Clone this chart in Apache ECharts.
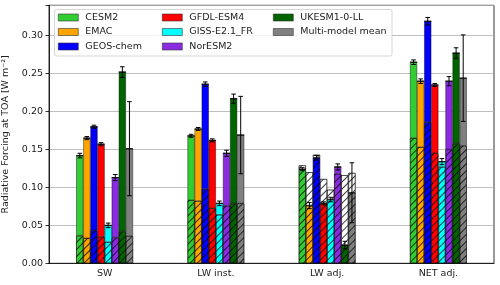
<!DOCTYPE html>
<html>
<head>
<meta charset="utf-8">
<script src="https://cdn.jsdelivr.net/npm/echarts@6/dist/echarts.min.js"></script>
<style>html,body{margin:0;padding:0;background:#fff}#c{width:500px;height:285px}</style>
</head>
<body>
<div id="c"></div>
<script>
const categories = ['SW', 'LW inst.', 'LW adj.', 'NET adj.'];
const models = ['CESM2', 'EMAC', 'GEOS-chem', 'GFDL-ESM4', 'GISS-E2.1_FR', 'NorESM2', 'UKESM1-0-LL', 'Multi-model mean'];
const colors = ['#32cd32', '#ffa500', '#0000ff', '#ff0000', '#00ffff', '#8a2be2', '#006400', '#808080'];
const yTicks = [0, 0.05, 0.10, 0.15, 0.20, 0.25, 0.30];

const CESM2_total = [0.142, 0.168, 0.124, 0.265];
const CESM2_hatch = [0.0365, 0.083, 0.129, 0.165];
const CESM2_err   = [0.003, 0.002, 0.002, 0.003];
const EMAC_total  = [0.165, 0.177, 0.076, 0.240];
const EMAC_hatch  = [0.033, 0.082, 0.120, 0.153];
const EMAC_err    = [0.002, 0.002, 0.004, 0.003];
const GEOS_total  = [0.180, 0.236, 0.139, 0.319];
const GEOS_hatch  = [0.0435, 0.098, 0.143, 0.186];
const GEOS_err    = [0.002, 0.003, 0.003, 0.005];
const GFDL_total  = [0.157, 0.162, 0.079, 0.235];
const GFDL_hatch  = [0.035, 0.0725, 0.111, 0.145];
const GFDL_err    = [0.002, 0.002, 0.002, 0.002];
const GISS_total  = [0.050, 0.079, 0.084, 0.134];
const GISS_hatch  = [0.028, 0.064, 0.097, 0.127];
const GISS_err    = [0.003, 0.003, 0.003, 0.004];
const NorESM2_total = [0.113, 0.145, 0.127, 0.240];
const NorESM2_hatch = [0.034, 0.076, 0.118, 0.150];
const NorESM2_err   = [0.004, 0.004, 0.004, 0.006];
const UKESM_total = [0.252, 0.217, 0.024, 0.277];
const UKESM_hatch = [0.042, 0.079, 0.116, 0.158];
const UKESM_err   = [0.007, 0.006, 0.005, 0.007];
const MEAN_total  = [0.151, 0.169, 0.093, 0.244];
const MEAN_hatch  = [0.036, 0.079, 0.119, 0.155];
const MEAN_err    = [0.062, 0.051, 0.0395, 0.057];

const totals = [CESM2_total, EMAC_total, GEOS_total, GFDL_total, GISS_total, NorESM2_total, UKESM_total, MEAN_total];
const hatches = [CESM2_hatch, EMAC_hatch, GEOS_hatch, GFDL_hatch, GISS_hatch, NorESM2_hatch, UKESM_hatch, MEAN_hatch];
const errs = [CESM2_err, EMAC_err, GEOS_err, GFDL_err, GISS_err, NorESM2_err, UKESM_err, MEAN_err];

const FONT = 'DejaVu Sans';
const CAT_GAP = 0.49;
const decal = {
  symbol: 'rect', symbolSize: 1,
  dashArrayX: [1, 0], dashArrayY: [1, 4],
  rotation: -Math.PI / 4,
  color: 'rgba(0,0,0,0.75)'
};
const edge = { borderColor: 'rgba(0,0,0,0.85)', borderWidth: 0.5 };

const series = [];
models.forEach((m, i) => {
  const lower = totals[i].map((t, j) => Math.min(t, hatches[i][j]));
  const upper = totals[i].map((t, j) => Math.max(t - hatches[i][j], 0));
  const extra = totals[i].map((t, j) => Math.max(hatches[i][j] - t, 0));
  series.push({
    name: m + ' (hatched)', type: 'bar', stack: 's' + i, data: lower,
    barCategoryGap: (CAT_GAP * 100) + '%', barGap: '0%',
    itemStyle: Object.assign({ color: colors[i], decal: decal }, edge),
    emphasis: { disabled: true }
  });
  series.push({
    name: m, type: 'bar', stack: 's' + i, data: upper,
    barCategoryGap: (CAT_GAP * 100) + '%', barGap: '0%',
    itemStyle: Object.assign({ color: colors[i] }, edge),
    emphasis: { disabled: true }
  });
  series.push({
    name: m + ' (hatched extra)', type: 'bar', stack: 's' + i, data: extra,
    barCategoryGap: (CAT_GAP * 100) + '%', barGap: '0%',
    itemStyle: Object.assign({ color: '#ffffff', decal: decal }, edge),
    emphasis: { disabled: true }
  });
});

const errData = [];
models.forEach((m, i) => {
  categories.forEach((c, j) => {
    errData.push([j, i, totals[i][j], errs[i][j]]);
  });
});
series.push({
  type: 'custom', name: 'errors', z: 10, silent: true,
  data: errData,
  encode: { x: 0, y: 2 },
  renderItem: function (params, api) {
    const j = api.value(0), i = api.value(1), t = api.value(2), e = api.value(3);
    const center = api.coord([j, t]);
    const bandW = api.size([1, 0])[0];
    const groupW = bandW * (1 - CAT_GAP);
    const bw = groupW / models.length;
    const x = center[0] - groupW / 2 + (i + 0.5) * bw;
    const y0 = api.coord([j, t - e])[1];
    const y1 = api.coord([j, t + e])[1];
    const cap = 2.3;
    const st = { stroke: '#000', lineWidth: 1 };
    return {
      type: 'group',
      children: [
        { type: 'line', shape: { x1: x, y1: y0, x2: x, y2: y1 }, style: st },
        { type: 'line', shape: { x1: x - cap, y1: y0, x2: x + cap, y2: y0 }, style: st },
        { type: 'line', shape: { x1: x - cap, y1: y1, x2: x + cap, y2: y1 }, style: st }
      ]
    };
  }
});

function legendPart(names, left) {
  return {
    orient: 'vertical', left: left, top: 12, padding: 0,
    itemWidth: 20, itemHeight: 7, itemGap: 3.5,
    icon: 'rect', z: 6,
    data: names.map(n => ({ name: n, itemStyle: { color: colors[models.indexOf(n)], borderColor: '#333', borderWidth: 0.6, decal: 'none' } })),
    textStyle: { fontFamily: FONT, fontSize: 9.5, color: '#222', lineHeight: 11, padding: [0, 0, 0, 2] },
    selectedMode: false
  };
}

const chart = echarts.init(document.getElementById('c'), null, { renderer: 'canvas' });
chart.setOption({
  animation: false,
  backgroundColor: '#fff',
  grid: { left: 49, right: 6, top: 5.3, bottom: 21.7, show: true, borderColor: '#000', borderWidth: 0.8, backgroundColor: 'transparent', outerBoundsMode: 'none', containLabel: false },
  xAxis: {
    type: 'category', data: categories,
    axisLine: { lineStyle: { color: '#000', width: 0.8 } },
    axisTick: { alignWithLabel: true, interval: 0, length: 3.5, lineStyle: { color: '#000', width: 0.8 } },
    axisLabel: { fontFamily: FONT, fontSize: 9.5, color: '#222', margin: 5 }
  },
  yAxis: {
    type: 'value', min: 0, max: 0.34, interval: 0.05,
    name: 'Radiative Forcing at TOA [W m⁻²]', nameLocation: 'middle', nameGap: 25, nameRotate: 90,
    nameTextStyle: { fontFamily: FONT, fontSize: 9.5, color: '#222' },
    axisLine: { show: true, lineStyle: { color: '#000', width: 0.8 } },
    axisTick: { show: true, length: 3.5, lineStyle: { color: '#000', width: 0.8 } },
    axisLabel: {
      fontFamily: FONT, fontSize: 9.5, color: '#222', margin: 6,
      formatter: v => (yTicks.some(t => Math.abs(t - v) < 1e-9) ? v.toFixed(2) : '')
    },
    splitLine: { show: true, lineStyle: { color: '#b0b0b0', width: 0.8 } }
  },
  graphic: [{
    type: 'rect', z: 5, silent: true,
    shape: { x: 54.5, y: 9.5, width: 337.5, height: 46.5, r: 2 },
    style: { fill: 'rgba(255,255,255,0.8)', stroke: '#cccccc', lineWidth: 0.8 }
  }],
  legend: [
    legendPart(['CESM2', 'EMAC', 'GEOS-chem'], 58),
    legendPart(['GFDL-ESM4', 'GISS-E2.1_FR', 'NorESM2'], 162),
    legendPart(['UKESM1-0-LL', 'Multi-model mean'], 273)
  ],
  series: series
});
</script>
</body>
</html>
